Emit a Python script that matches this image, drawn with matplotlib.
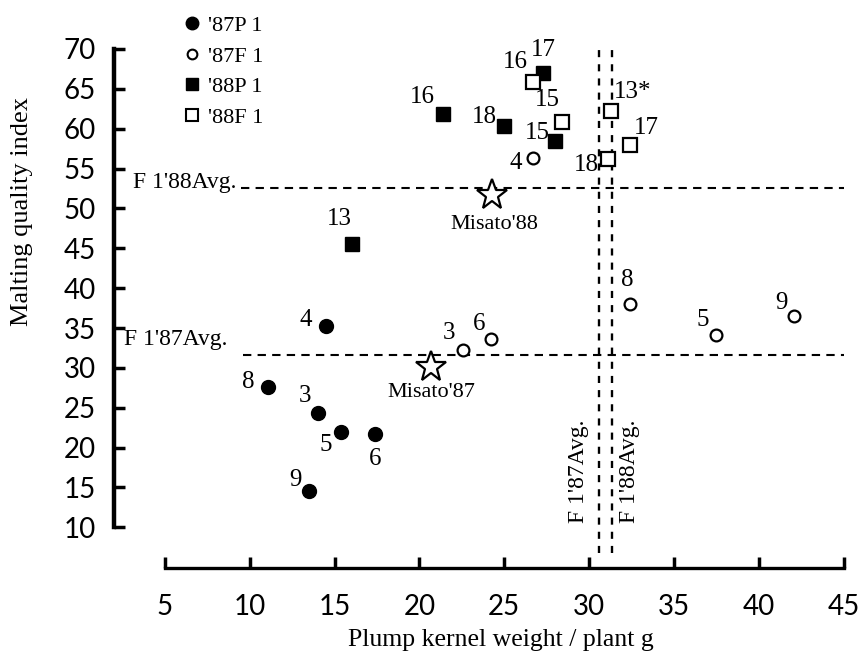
import matplotlib
matplotlib.use('Agg')
from matplotlib import pyplot as plt
from matplotlib.lines import Line2D

# '87 P1 (filled circles)
p87_x = [14.5, 11.1, 14.0, 15.4, 17.4, 13.5]
p87_y = [35.2, 27.6, 24.3, 22.0, 21.7, 14.5]
p87_lab = ['4', '8', '3', '5', '6', '9']

# '87 F1 (open circles)
f87_x = [22.6, 24.2, 26.7, 32.4, 37.5, 42.1]
f87_y = [32.2, 33.6, 56.3, 38.0, 34.1, 36.5]
f87_lab = ['3', '6', '4', '8', '5', '9']

# '88 P1 (filled squares)
p88_x = [21.4, 25.0, 27.3, 28.0, 16.0]
p88_y = [61.9, 60.3, 67.0, 58.4, 45.6]
p88_lab = ['16', '18', '17', '15', '13']

# '88 F1 (open squares)
f88_x = [26.7, 28.4, 31.1, 31.3, 32.4]
f88_y = [65.9, 60.9, 56.2, 62.2, 58.0]
f88_lab = ['16', '15', '18', '13*', '17']

# Misato checks
mis_x = [20.7, 24.3]
mis_y = [30.1, 51.7]
mis_lab = ["Misato'87", "Misato'88"]

# F1 averages
avg87_x, avg88_x = 30.57, 31.33
avg87_y, avg88_y = 31.6, 52.6

series_names = ["'87P 1", "'87F 1", "'88P 1", "'88F 1"]

# label offsets in pixels (dx, dy), dy up
p87_off = [(-20, 6), (-20, 5), (-13, 17), (-16, -13), (0, -25), (-14, 11)]
f87_off = [(-14, 17), (-12, 15), (-17, -5), (-3, 24), (-14, 15), (-13, 13)]
p88_off = [(-21, 17), (-20, 9), (0, 23), (-18, 8), (-12, 25)]
f88_off = [(-18, 20), (-15, 22), (-21, -6), (22, 19), (17, 17)]
mis_off = [(0, -25), (2, -30)]

serif = 'Liberation Serif'
plt.rcParams['font.family'] = serif

fig = plt.figure(figsize=(8.63, 6.58), dpi=100)
ax = fig.add_axes([114/863, 90/658, 738/863, 523/658])
ax.set_xlim(2.0, 45.5)
ax.set_ylim(4.9, 70.5)

# average lines
ax.plot([9.5, 45], [avg88_y, avg88_y], 'k', ls=(0, (4, 3)), lw=1.5)
ax.plot([9.6, 45], [avg87_y, avg87_y], 'k', ls=(0, (4, 3)), lw=1.5)
ax.plot([avg87_x, avg87_x], [6.8, 69.9], 'k', ls=(0, (3, 3)), lw=1.7)
ax.plot([avg88_x, avg88_x], [6.8, 69.9], 'k', ls=(0, (3, 3)), lw=1.7)

ax.text(9.2, 53.3, "F 1'88Avg.", ha='right', va='center', fontsize=17)
ax.text(8.7, 33.6, "F 1'87Avg.", ha='right', va='center', fontsize=17)
ax.text(29.35, 17.0, "F 1'87Avg.", rotation=90, ha='center', va='center', fontsize=17)
ax.text(32.4, 17.0, "F 1'88Avg.", rotation=90, ha='center', va='center', fontsize=17)

ax.plot(p87_x, p87_y, 'o', color='k', ms=10, ls='none')
ax.plot(f87_x, f87_y, 'o', mfc='white', mec='k', mew=1.6, ms=8.5, ls='none')
ax.plot(p88_x, p88_y, 's', color='k', ms=10, ls='none')
ax.plot(f88_x, f88_y, 's', mfc='white', mec='k', mew=1.6, ms=9.5, ls='none')
ax.plot(mis_x, mis_y, '*', mfc='white', mec='k', mew=1.6, ms=23, ls='none')

for xs, ys, labs, offs in [(p87_x, p87_y, p87_lab, p87_off),
                           (f87_x, f87_y, f87_lab, f87_off),
                           (p88_x, p88_y, p88_lab, p88_off),
                           (f88_x, f88_y, f88_lab, f88_off)]:
    for x, y, t, o in zip(xs, ys, labs, offs):
        ax.annotate(t, (x, y), xytext=o, textcoords='offset pixels',
                    ha='center', va='center', fontsize=18)
for x, y, t, o in zip(mis_x, mis_y, mis_lab, mis_off):
    ax.annotate(t, (x, y), xytext=o, textcoords='offset pixels',
                ha='center', va='center', fontsize=16)

# detached axes
for s in ['top', 'right']:
    ax.spines[s].set_visible(False)
ax.spines['left'].set_bounds(10, 70)
ax.spines['bottom'].set_bounds(5, 45)
ax.spines['left'].set_linewidth(3.2)
ax.spines['bottom'].set_linewidth(2.4)
ax.set_xticks(range(5, 50, 5))
ax.set_yticks(range(10, 75, 5))
ax.tick_params(axis='y', direction='in', length=8, width=2.5, pad=13, labelsize=20)
ax.tick_params(axis='x', direction='in', length=8, width=2.5, pad=19, labelsize=20)
for lab in ax.get_xticklabels() + ax.get_yticklabels():
    lab.set_family('Lato')

fig.text(501/863, 0.027, 'Plump kernel weight / plant g', ha='center', va='center', fontsize=18.5)
fig.text(22/863, 0.678, 'Malting quality index', rotation=90, ha='center', va='center', fontsize=19)

handles = [
    Line2D([], [], marker='o', color='k', ls='none', ms=9),
    Line2D([], [], marker='o', mfc='white', mec='k', mew=1.5, ls='none', ms=7),
    Line2D([], [], marker='s', color='k', ls='none', ms=9),
    Line2D([], [], marker='s', mfc='white', mec='k', mew=1.5, ls='none', ms=9),
]
fig.legend(handles, series_names, loc='upper left', bbox_to_anchor=(168/863, 1.0),
           frameon=False, fontsize=16, handlelength=0.8, handletextpad=0.3,
           labelspacing=0.45, borderaxespad=0.3)

fig.savefig('out.png', dpi=100)
